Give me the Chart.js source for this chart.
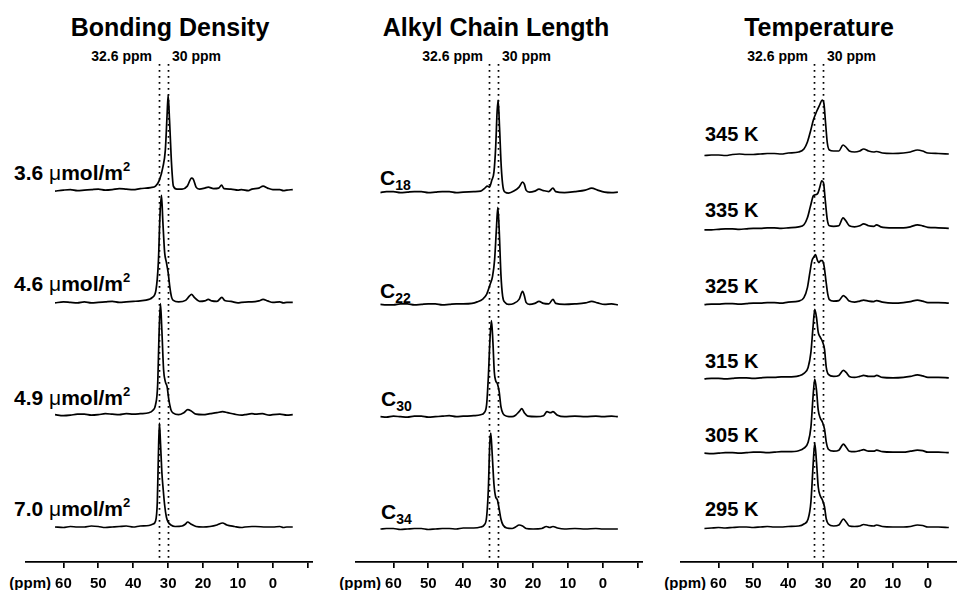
<!DOCTYPE html>
<html>
<head>
<meta charset="utf-8">
<script src="https://cdn.jsdelivr.net/npm/chart.js@4.4.1/dist/chart.umd.min.js"></script>
<style>
  body { margin:0; width:957px; height:590px; overflow:hidden; position:relative; background:#fff;
         font-family:"Liberation Sans", Arial, sans-serif; font-weight:bold; color:#000; }
  canvas { position:absolute; top:0; }
  .t { position:absolute; white-space:nowrap; line-height:1; }
  .title { font-size:25px; top:15px; transform:translateX(-50%); }
  .ref { font-size:14px; top:49px; }
  .lab { font-size:21px; }
  .klab { font-size:20px; }
  .clab { font-size:21px; }
  .mu { font-weight:normal; }
  sup { font-size:13px; vertical-align:9px; line-height:0; }
  sub { font-size:14px; vertical-align:-5px; line-height:0; }
  .ppm { font-size:15px; top:575px; }
</style>
</head>
<body>

<div class="t title" style="left:170px">Bonding Density</div>
<div class="t title" style="left:496px">Alkyl Chain Length</div>
<div class="t title" style="left:819px">Temperature</div>

<div class="t ref" style="right:805px">32.6 ppm</div>
<div class="t ref" style="left:172px">30 ppm</div>
<div class="t ref" style="right:474px">32.6 ppm</div>
<div class="t ref" style="left:502px">30 ppm</div>
<div class="t ref" style="right:149px">32.6 ppm</div>
<div class="t ref" style="left:827px">30 ppm</div>

<div class="t lab" style="left:14px;top:162px">3.6 <span class="mu">&mu;</span>mol/m<sup>2</sup></div>
<div class="t lab" style="left:14px;top:273px">4.6 <span class="mu">&mu;</span>mol/m<sup>2</sup></div>
<div class="t lab" style="left:14px;top:387px">4.9 <span class="mu">&mu;</span>mol/m<sup>2</sup></div>
<div class="t lab" style="left:14px;top:498px">7.0 <span class="mu">&mu;</span>mol/m<sup>2</sup></div>

<div class="t clab" style="left:380px;top:167px">C<sub>18</sub></div>
<div class="t clab" style="left:380px;top:280px">C<sub>22</sub></div>
<div class="t clab" style="left:381px;top:388px">C<sub>30</sub></div>
<div class="t clab" style="left:381px;top:501px">C<sub>34</sub></div>

<div class="t klab" style="left:705px;top:124px">345 K</div>
<div class="t klab" style="left:705px;top:200px">335 K</div>
<div class="t klab" style="left:705px;top:276px">325 K</div>
<div class="t klab" style="left:705px;top:351px">315 K</div>
<div class="t klab" style="left:705px;top:425px">305 K</div>
<div class="t klab" style="left:705px;top:499px">295 K</div>

<div class="t ppm" style="right:906px">(ppm)</div>
<div class="t ppm" style="right:576px">(ppm)</div>
<div class="t ppm" style="right:251px">(ppm)</div>

<canvas id="c1" width="288" height="590" style="left:25px"></canvas>
<canvas id="c2" width="288" height="590" style="left:355px"></canvas>
<canvas id="c3" width="288" height="590" style="left:680px"></canvas>

<script>
// axis
const tickLabels = [60, 50, 40, 30, 20, 10, 0];
const tickMarks = [-10, 0, 10, 20, 30, 40, 50, 60];
const refPpm = [32.6, 30];

// Bonding density spectra [ppm, intensity]
const bd36 = [[62.4,-1],[60,0],[58,0.5],[56,-0.5],[54,0],[52,0.5],[50,1],[48,0],[46,0.5],[44,1.5],[42,1],[40,0.5],[38,1.5],[35,2.5],[33.6,4],[32.5,10],[31.5,23],[30.8,40],[30.3,75],[30.0,95],[29.6,70],[29.0,25],[28.5,4],[27.5,1],[26,1],[24.5,4],[23.3,12],[22.8,11],[22,3],[21,1],[19.5,2],[18.5,3],[17,1.5],[15.5,2],[14.7,5],[14,1.5],[12,1],[10,0],[9,0.5],[7,-0.5],[6,1],[4,2],[2.8,4],[1.5,2],[0,0.5],[-2,0.5],[-3,-0.5],[-4,0],[-5.7,0.5]];
const bd46 = [[62.4,-0.5],[60,0.5],[58,0],[56,-0.5],[54,0.5],[52,-0.5],[50,0],[48,0.5],[46,1],[44,0],[42,0.5],[40,1],[38,1.5],[35.5,3],[34.5,5],[33.5,12],[32.8,40],[32.3,90],[31.9,107],[31.5,80],[31.0,50],[30.5,40],[30.0,30],[29.5,15],[29.0,5],[28.5,2],[27,0.5],[25,2],[24,6],[23.3,8],[22.5,5],[21,1],[19.5,1.5],[18.5,3],[17.5,1.5],[16,1],[14.6,5],[13.8,2],[12,1],[10,-0.5],[9,0],[7,0.5],[6,0.5],[4,1.5],[2.8,3],[1.5,1.5],[0,0],[-2,0.5],[-3,-0.5],[-4,0],[-5.7,0]];
const bd49 = [[62.4,0],[60,-1],[58,-0.5],[56,0.5],[54,0.5],[52,-0.5],[50,0],[48,1],[46,0.5],[44,0],[42,1],[40,0.5],[38,1],[35.5,2],[34.5,4],[33.6,10],[33,30],[32.6,80],[32.2,111],[31.8,85],[31.3,45],[30.8,33],[30.3,28],[29.8,15],[29.2,5],[28.5,1.5],[27,0],[25.5,2],[24.4,5],[23.5,4],[22,0.5],[20,0],[18,1],[16,2],[14.4,3],[13,2],[11,0.5],[9,-0.5],[8,0],[6,1],[5,0.5],[3,1],[1,-0.5],[0,0],[-2,0.5],[-4,-0.5],[-5.7,0]];
const bd70 = [[62.4,0],[60,-0.5],[58,0.5],[56,0],[54,0],[52,1],[50,0.5],[48,-0.5],[46,0],[44,0.5],[42,1],[40,0],[38,1],[35.5,1.5],[34.3,3],[33.6,6],[33.1,25],[32.8,70],[32.5,104],[32.2,85],[31.8,55],[31.4,37],[31,22],[30.5,10],[30,5],[29.2,2],[28,0.5],[26,1],[25,3],[24.4,5],[23.5,3],[22,0.5],[20,0],[18,0.5],[16,2],[14.4,4],[13.2,2],[11,0.5],[9,-0.5],[8,0],[6,0.5],[5,0.5],[2,0],[0,0],[-2,0.5],[-3,-0.5],[-4,0],[-5.7,0]];

// Alkyl chain length spectra
const c18 = [[63.7,-0.5],[62,0.5],[60,0.5],[58,-0.5],[56,0],[54,0.5],[52,0.5],[50,-0.5],[48,0],[46,0.5],[44,0.5],[42,-0.5],[40,0],[37,0.5],[35,1],[33.8,4],[33.1,6],[32.5,5],[31.8,12],[31.2,20],[30.7,45],[30.3,80],[30.0,92],[29.6,65],[29.1,25],[28.6,5],[28,0],[27,-1],[25.5,1],[24,5],[23,10],[22.5,8],[22,2],[21,0],[19.5,1],[18.3,3],[17,1.5],[15.5,0.5],[14.3,4],[13.5,0.5],[11,-0.5],[8,0.5],[5,2],[3.2,4],[1.5,2],[-0.5,0],[-2.5,-0.5],[-4.3,0]];
const c22 = [[63.7,0],[62,-0.5],[60,-0.5],[58,0.5],[56,0.5],[54,-0.5],[52,0],[50,0.5],[48,0.5],[46,-0.5],[44,0],[42,0.5],[40,0.5],[37.5,1],[36,2.5],[34.5,5],[33.3,10],[32.3,20],[31.6,28],[31,45],[30.5,75],[30.1,97],[29.7,75],[29.2,30],[28.7,8],[28,2],[27,0],[25.5,1],[24,5],[23,13],[22.5,9],[22,2],[21,0],[19.5,1],[18.3,3],[17,1],[15.5,0.5],[14.3,5],[13.5,1],[11,0],[8,0.5],[5,1.5],[3.2,3],[1.5,1.5],[-0.5,0],[-2.5,0.5],[-4.3,-0.5]];
const c30 = [[63.7,0],[62,-0.5],[60,0.5],[58,0],[56,-0.5],[54,0.5],[52,0.5],[50,-0.5],[48,0],[46,0.5],[44,1],[42,0],[40,0.5],[37,1],[35,2],[34,4],[33.3,12],[32.8,40],[32.3,80],[31.9,96],[31.5,75],[31.1,45],[30.7,36],[30.2,33],[29.7,25],[29.2,10],[28.6,3],[27.5,0.5],[26,0],[25,1.5],[24,5],[23.2,8],[22.5,4],[21.5,0.5],[19,0],[17,1],[16,5],[15,4],[14.3,5],[13,1.5],[11,0],[8,0.5],[5,0],[2,0.5],[0,0],[-2.5,0.5],[-4.3,0]];
const c34 = [[63.7,0],[62,0.5],[60,0.5],[58,-0.5],[56,0],[54,0.5],[52,0.5],[50,-0.5],[48,0],[46,0.5],[44,0.5],[42,0],[40,1],[37,1],[35,2],[34,4],[33.3,12],[32.8,40],[32.4,85],[32.1,96],[31.7,75],[31.2,45],[30.7,32],[30.2,29],[29.7,20],[29.2,10],[28.6,4],[27.5,1],[26,0.5],[25,2],[24,4],[23,3],[22,0.5],[20,0],[17.5,0.5],[16.2,2.5],[15.2,1.5],[14.3,2.5],[13,1],[11,0],[8,0.5],[5,0],[2,0.5],[0,0],[-2.5,0],[-4.3,0]];

// Temperature spectra
const t345 = [[64,-2.5],[62,-2],[60,-2],[58,-2.5],[56,-1.5],[54,-1],[52,-1.5],[50,-1.5],[48,-1],[46,-0.5],[44,-0.5],[42,-1],[40,0],[37,1],[35.5,4],[34.5,11],[33.6,22],[32.8,33],[31.8,42],[31,48],[30.3,53],[29.8,50],[29.3,30],[28.8,10],[28.2,3],[27,2],[25.5,2],[24.3,8],[23.5,6],[22.5,2],[21,1],[19.5,2],[18.4,4],[17,2],[15.5,1],[14.7,1.5],[13,0],[10,-0.5],[7,0],[5,1],[3,3],[1.5,2],[0,0],[-3,-0.5],[-6,-1]];
const t335 = [[64,-2],[62,-2],[60,-1.5],[58,-1],[56,-1],[54,-1.5],[52,-1],[50,-0.5],[48,-0.5],[46,0],[44,0],[42,-0.5],[40,0],[37,1],[35.5,3],[34.5,10],[33.6,22],[32.8,32],[32.2,33],[31.6,34],[31,40],[30.4,47],[29.9,45],[29.4,28],[28.8,8],[28.2,2],[27,1.5],[25.5,2],[24.3,10],[23.5,7],[22.5,2],[21,1],[19.5,2],[18.4,4],[17,2],[15.5,1.5],[14.7,3],[13.5,1],[10,0],[7,0],[5,1],[3,3],[1.5,2],[0,0.5],[-3,0],[-6,-0.5]];
const t325 = [[64,-2],[62,-1.5],[60,-1.5],[58,-1],[56,-1],[54,-1.5],[52,-1],[50,-0.5],[48,-0.5],[46,0],[44,0],[42,-0.5],[40,0.5],[37,1.5],[35.5,5],[34.5,15],[33.8,30],[33.2,42],[32.6,46],[32.2,48],[31.6,42],[31.2,40],[30.7,42],[30.2,42],[29.7,36],[29.2,22],[28.7,9],[28.2,3],[27,1.5],[25.5,2],[24.2,7],[23.4,5],[22.5,1.5],[21,0.5],[19.5,1.5],[18.4,2.5],[17,1.5],[15.5,1],[14.7,2],[13,0.5],[10,-0.5],[7,0],[5,1],[3,2.5],[1.5,1.5],[0,0],[-3,0],[-6,-0.5]];
const t315 = [[64,-1.5],[62,-1],[60,-1],[58,-1.5],[56,-1],[54,-0.5],[52,-0.5],[50,-1],[48,-0.5],[46,0],[44,0],[42,0.5],[40,0.5],[37,1.5],[35.5,4],[34.3,10],[33.5,25],[32.9,50],[32.4,68],[31.9,60],[31.4,45],[30.8,40],[30.2,36],[29.6,28],[29.1,10],[28.5,3],[27,1],[25.5,2],[24.2,7],[23.4,5],[22.5,1],[21,0],[19.5,1],[18.4,2],[17,1],[15.5,1],[14.7,2],[13,0],[10,-0.5],[7,0],[5,1],[3,2.5],[1.5,1.5],[0,0],[-3,0],[-6,-0.5]];
const t305 = [[64,-1],[62,-1.5],[60,-1],[58,-0.5],[56,-0.5],[54,-1],[52,-0.5],[50,0],[48,0],[46,-0.5],[44,0],[42,0.5],[40,0.5],[37,1.5],[35.5,4],[34.3,10],[33.5,25],[32.9,55],[32.4,73],[31.9,62],[31.4,42],[30.8,34],[30.2,30],[29.6,23],[29.1,10],[28.5,3],[27,1],[25.5,2],[24.2,8],[23.4,5],[22.5,1],[21,0.5],[19.5,1.5],[18.4,2.5],[17,1],[15.5,1],[14.7,2],[13,0.5],[10,0],[7,0],[5,1],[3,2],[1.5,1.5],[0,0],[-3,0],[-6,-0.5]];
const t295 = [[64,-1.5],[62,-1],[60,-0.5],[58,-1],[56,-0.5],[54,0],[52,0],[50,-0.5],[48,0],[46,0.5],[44,0],[42,0],[40,0.5],[37,1],[35.5,3],[34.3,8],[33.5,25],[32.9,60],[32.4,84],[31.9,65],[31.4,40],[30.8,31],[30.2,27],[29.6,20],[29.1,8],[28.5,3],[27,1],[25.5,2],[24.2,8],[23.4,5],[22.5,1],[21,0.5],[19.5,1],[18.4,2.5],[17,1.5],[15.5,1],[14.7,2],[13,0.5],[10,0],[7,0],[5,0.5],[3,2],[1.5,1.5],[0,0],[-3,0],[-6,-0.5]];

const refLines = {
  id: 'refLines',
  afterDatasetsDraw(chart) {
    const { ctx, scales: { x } } = chart;
    ctx.save();
    ctx.strokeStyle = '#000';
    ctx.lineWidth = 1.7;
    ctx.setLineDash([1.7, 4.3]);
    refPpm.forEach(p => {
      const px = Math.round(x.getPixelForValue(p)) + 0.5;
      ctx.beginPath();
      ctx.moveTo(px, 64);
      ctx.lineTo(px, 560);
      ctx.stroke();
    });
    ctx.restore();
  }
};

function makePanel(id, spectra, base, step) {
  const datasets = spectra.map((s, i) => ({
    data: s.map(([p, v]) => ({ x: p, y: v + base + i * step })),
    borderColor: '#000',
    borderWidth: 1.7,
    pointRadius: 0,
    fill: false,
    cubicInterpolationMode: 'monotone'
  }));
  return new Chart(document.getElementById(id), {
    type: 'line',
    data: { datasets },
    options: {
      responsive: false,
      animation: false,
      layout: { padding: 0 },
      plugins: { legend: { display: false }, tooltip: { enabled: false } },
      scales: {
        x: {
          type: 'linear',
          reverse: true,
          min: -11.5,
          max: 71,
          afterBuildTicks: s => { s.ticks = tickMarks.map(v => ({ value: v })); },
          afterFit: s => { s.height = 28; },
          border: { display: true, color: '#000', width: 1.7 },
          grid: { drawOnChartArea: false, drawTicks: true, tickLength: 6, color: '#000', lineWidth: 1.7 },
          ticks: {
            color: '#000',
            padding: 7,
            maxRotation: 0,
            autoSkip: false,
            font: { family: '"Liberation Sans", Arial, sans-serif', size: 15, weight: 'bold' },
            callback: v => tickLabels.includes(v) ? String(v) : ''
          }
        },
        y: { display: false, min: 0, max: 562 }
      }
    },
    plugins: [refLines]
  });
}

makePanel('c1', [bd70, bd49, bd46, bd36], 35, 112.3);
makePanel('c2', [c34, c30, c22, c18], 33, 112.3);
makePanel('c3', [t295, t305, t315, t325, t335, t345], 35, 74.8);
</script>
</body>
</html>
